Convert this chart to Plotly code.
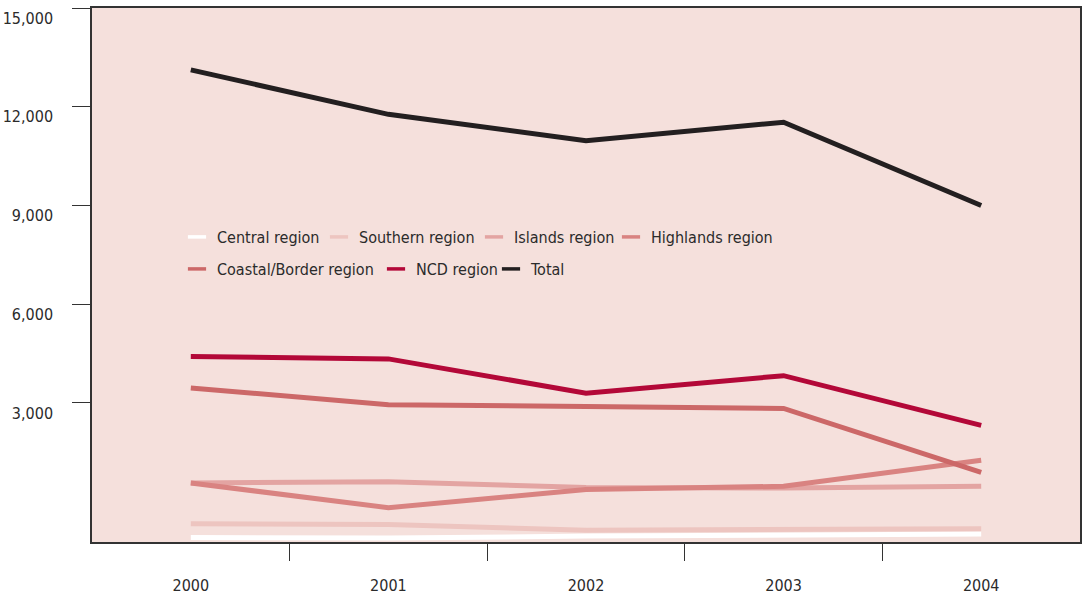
import plotly.graph_objects as go

years = ["2000", "2001", "2002", "2003", "2004"]
central = [-1090, -1105, -1044, -999, -978]
southern = [-665, -695, -868, -847, -817]
islands = [570, 610, 430, 420, 470]
highlands = [570, -180, 370, 470, 1260]
coastal = [3455, 2950, 2890, 2835, 890]
ncd = [4410, 4340, 3300, 3830, 2320]
total = [13120, 11770, 10970, 11530, 9000]

series_names = ["Central region", "Southern region", "Islands region", "Highlands region",
                "Coastal/Border region", "NCD region", "Total"]
series_values = [central, southern, islands, highlands, coastal, ncd, total]
colors = ["#FFFFFF", "#EDC5C0", "#E3A4A2", "#D98381", "#CC6868", "#B30838", "#231F20"]

# legend placement (text start pixel, row)
legend_text_x = [214, 356, 511, 648, 214, 413, 528]
legend_row = [0, 0, 0, 0, 1, 1, 1]

y_ticks = [3000, 6000, 9000, 12000, 15000]
boundary_ticks = [0.5, 1.5, 2.5, 3.5]

FONT = "DejaVu Sans Condensed, Liberation Sans Narrow, Roboto, sans-serif"
TXT = "#2b2b2b"

W, H = 1084, 602
ML, MR, MT, MB = 92, 4, 8, 60
PW, PH = W - ML - MR, H - MT - MB
row_y = [237, 269]

fig = go.Figure()
legend_layout = {}
for i, (name, vals, col) in enumerate(zip(series_names, series_values, colors)):
    lid = "legend" if i == 0 else f"legend{i + 1}"
    fig.add_trace(go.Scatter(x=years, y=vals, name=name, mode="lines",
                             line=dict(color=col, width=5), showlegend=False,
                             legendgroup=name))
    # legend entry with a short line symbol
    fig.add_trace(go.Scatter(x=[None], y=[None], name=name, mode="markers",
                             marker=dict(symbol="line-ew", size=13,
                                         line=dict(color=col, width=3.5)),
                             legend=lid, legendgroup=name, hoverinfo="skip"))
    lx = (legend_text_x[i] - 37 - ML) / PW
    ly = (H - MB - row_y[legend_row[i]]) / PH
    legend_layout[lid] = dict(orientation="h", x=lx, y=ly, xanchor="left", yanchor="middle",
                              bgcolor="rgba(0,0,0,0)",
                              font=dict(family=FONT, size=16, color=TXT),
                              itemclick=False, itemdoubleclick=False)

# invisible trace to anchor the boundary-tick axis
fig.add_trace(go.Scatter(x=[None], y=[None], xaxis="x2", showlegend=False,
                         hoverinfo="skip"))

fig.update_layout(
    width=W, height=H,
    margin=dict(l=ML, r=MR, t=MT, b=MB),
    paper_bgcolor="white",
    plot_bgcolor="#F5E0DC",
    font=dict(family=FONT, size=16, color=TXT),
    xaxis=dict(type="category", range=[-0.5, 4.5], showgrid=False, zeroline=False,
               showline=True, linecolor="#333333", linewidth=1.5, mirror=True,
               ticks="", ticklabelstandoff=28, automargin=False,
               tickfont=dict(family=FONT, size=16, color=TXT)),
    xaxis2=dict(overlaying="x", side="bottom", range=[-0.5, 4.5], tickvals=boundary_ticks,
                showticklabels=False, ticks="outside", ticklen=18, tickwidth=1.2,
                tickcolor="#333333", showgrid=False, zeroline=False, showline=False,
                automargin=False),
    yaxis=dict(range=[-1223, 15000], tickvals=y_ticks, tickformat=",",
               showgrid=False, zeroline=False, showline=True, linecolor="#333333",
               linewidth=1.5, mirror=True, ticks="outside", ticklen=18, tickwidth=1.2,
               tickcolor="#333333", ticklabelstandoff=16, ticklabelshift=10,
               ticklabeloverflow="allow", automargin=False,
               tickfont=dict(family=FONT, size=16, color=TXT)),
    showlegend=True,
    **legend_layout,
)

fig.write_html("out.html", config={"displayModeBar": False},
               post_script="document.body.style.margin='0';document.body.style.overflow='hidden';")
